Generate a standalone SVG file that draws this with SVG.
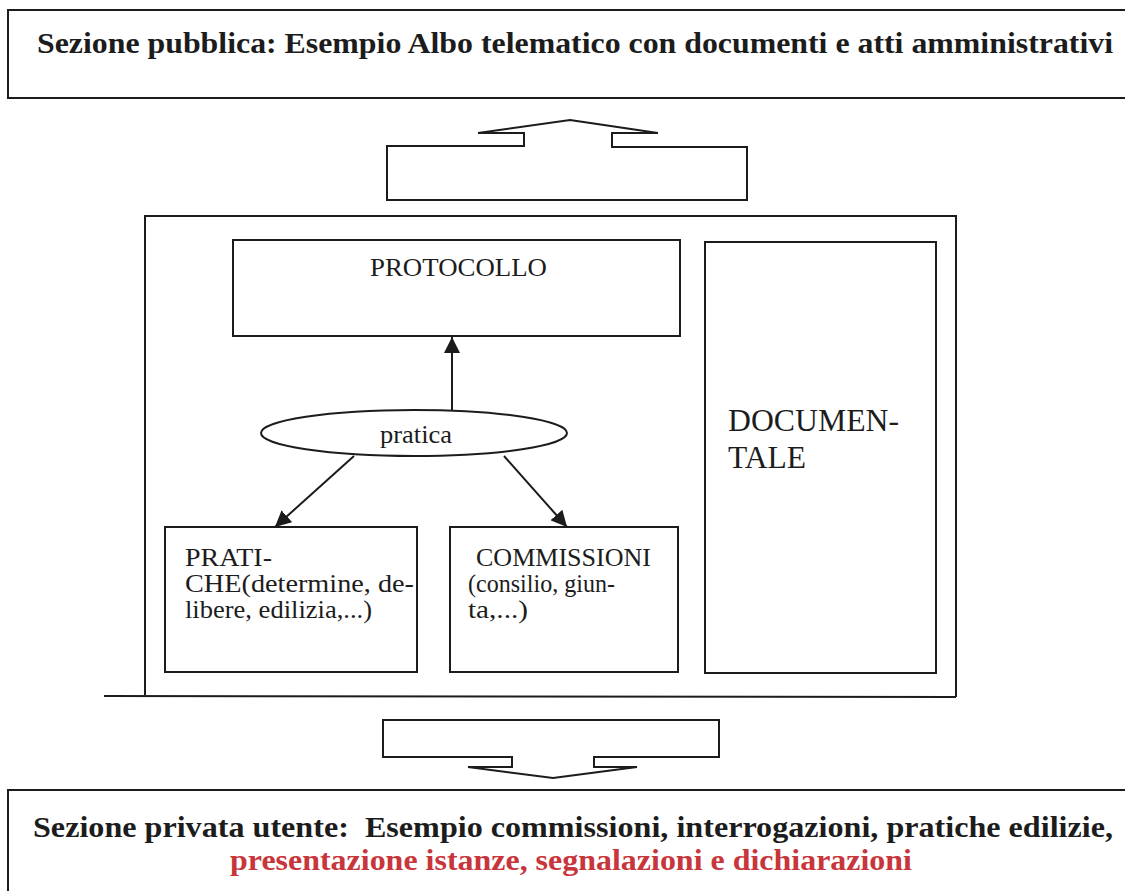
<svg xmlns="http://www.w3.org/2000/svg" width="1125" height="891" viewBox="0 0 1125 891">
<style>
.box{fill:none;stroke:#1c1c1c;stroke-width:2}
.shape{fill:#fff;stroke:#1c1c1c;stroke-width:2;stroke-linejoin:miter}
.conn{fill:none;stroke:#1c1c1c;stroke-width:2}
.t{font-family:"Liberation Serif","Times New Roman",serif;fill:#1c1c1c}
.s{font-size:26px}
.b{font-size:29px;font-weight:bold}
.red{fill:#c8363c}
</style>
<defs>
<marker id="ah" markerUnits="userSpaceOnUse" markerWidth="16" markerHeight="16" refX="16" refY="8" orient="auto">
<path d="M0,0 L16,8 L0,16 z" fill="#1c1c1c"/>
</marker>
</defs>
<rect width="1125" height="891" fill="#fff"/>

<g id="public-section">
<polyline class="box" points="1125,10 8,10 8,98 1125,98"/>
<text class="t b" x="37" y="53" textLength="1076" lengthAdjust="spacingAndGlyphs">Sezione pubblica: Esempio Albo telematico con documenti e atti amministrativi</text>
</g>

<g id="main-container">
<polyline class="box" points="145,695 145,216 956,216 956,697"/>
<line class="box" x1="104" y1="696" x2="956" y2="697"/>
</g>

<g id="protocollo">
<rect class="box" x="233" y="240" width="447" height="96"/>
<text class="t s" x="370" y="276" textLength="177" lengthAdjust="spacingAndGlyphs">PROTOCOLLO</text>
</g>

<g id="documentale">
<rect class="box" x="705" y="242" width="231" height="431"/>
<text class="t" font-size="32" x="728" y="431" textLength="171" lengthAdjust="spacingAndGlyphs">DOCUMEN-</text>
<text class="t" font-size="32" x="728" y="468" textLength="78" lengthAdjust="spacingAndGlyphs">TALE</text>
</g>

<g id="pratica">
<ellipse class="box" cx="414" cy="433" rx="153" ry="23"/>
<text class="t s" x="380" y="443" textLength="72" lengthAdjust="spacingAndGlyphs">pratica</text>
</g>

<g id="pratiche">
<rect class="box" x="165" y="527" width="252" height="145"/>
<text class="t s" x="185" y="566" textLength="87" lengthAdjust="spacingAndGlyphs">PRATI-</text>
<text class="t s" x="185" y="592" textLength="229" lengthAdjust="spacingAndGlyphs">CHE(determine, de-</text>
<text class="t s" x="185" y="618" textLength="187" lengthAdjust="spacingAndGlyphs">libere, edilizia,...)</text>
</g>

<g id="commissioni">
<rect class="box" x="450" y="527" width="228" height="145"/>
<text class="t s" x="476" y="566" textLength="175" lengthAdjust="spacingAndGlyphs">COMMISSIONI</text>
<text class="t s" x="468" y="592" textLength="147" lengthAdjust="spacingAndGlyphs">(consilio, giun-</text>
<text class="t s" x="468" y="618" textLength="60" lengthAdjust="spacingAndGlyphs">ta,...)</text>
</g>

<g id="private-section">
<polyline class="box" points="8,891 8,790 1125,790"/>
<text class="t b" x="33" y="837" textLength="1080" lengthAdjust="spacingAndGlyphs" xml:space="preserve">Sezione privata utente:  Esempio commissioni, interrogazioni, pratiche edilizie,</text>
<text class="t b red" x="230" y="870" textLength="682" lengthAdjust="spacingAndGlyphs">presentazione istanze, segnalazioni e dichiarazioni</text>
</g>

<g id="connectors">
<line class="conn" x1="452" y1="410" x2="452" y2="337" marker-end="url(#ah)"/>
<line class="conn" x1="354" y1="456" x2="275" y2="527" marker-end="url(#ah)"/>
<line class="conn" x1="504" y1="456" x2="567" y2="527" marker-end="url(#ah)"/>
<path id="arrow-up" class="shape" d="M570,120 L658,133 L612,133 L612,147 L747,147 L747,200 L387,200 L387,146 L524,146 L524,133 L478,133 Z"/>
<path id="arrow-down" class="shape" d="M383,720 L719,720 L719,757 L594,757 L594,767 L637,767 L553,778 L468,767 L512,767 L512,757 L383,757 Z"/>
</g>
</svg>
